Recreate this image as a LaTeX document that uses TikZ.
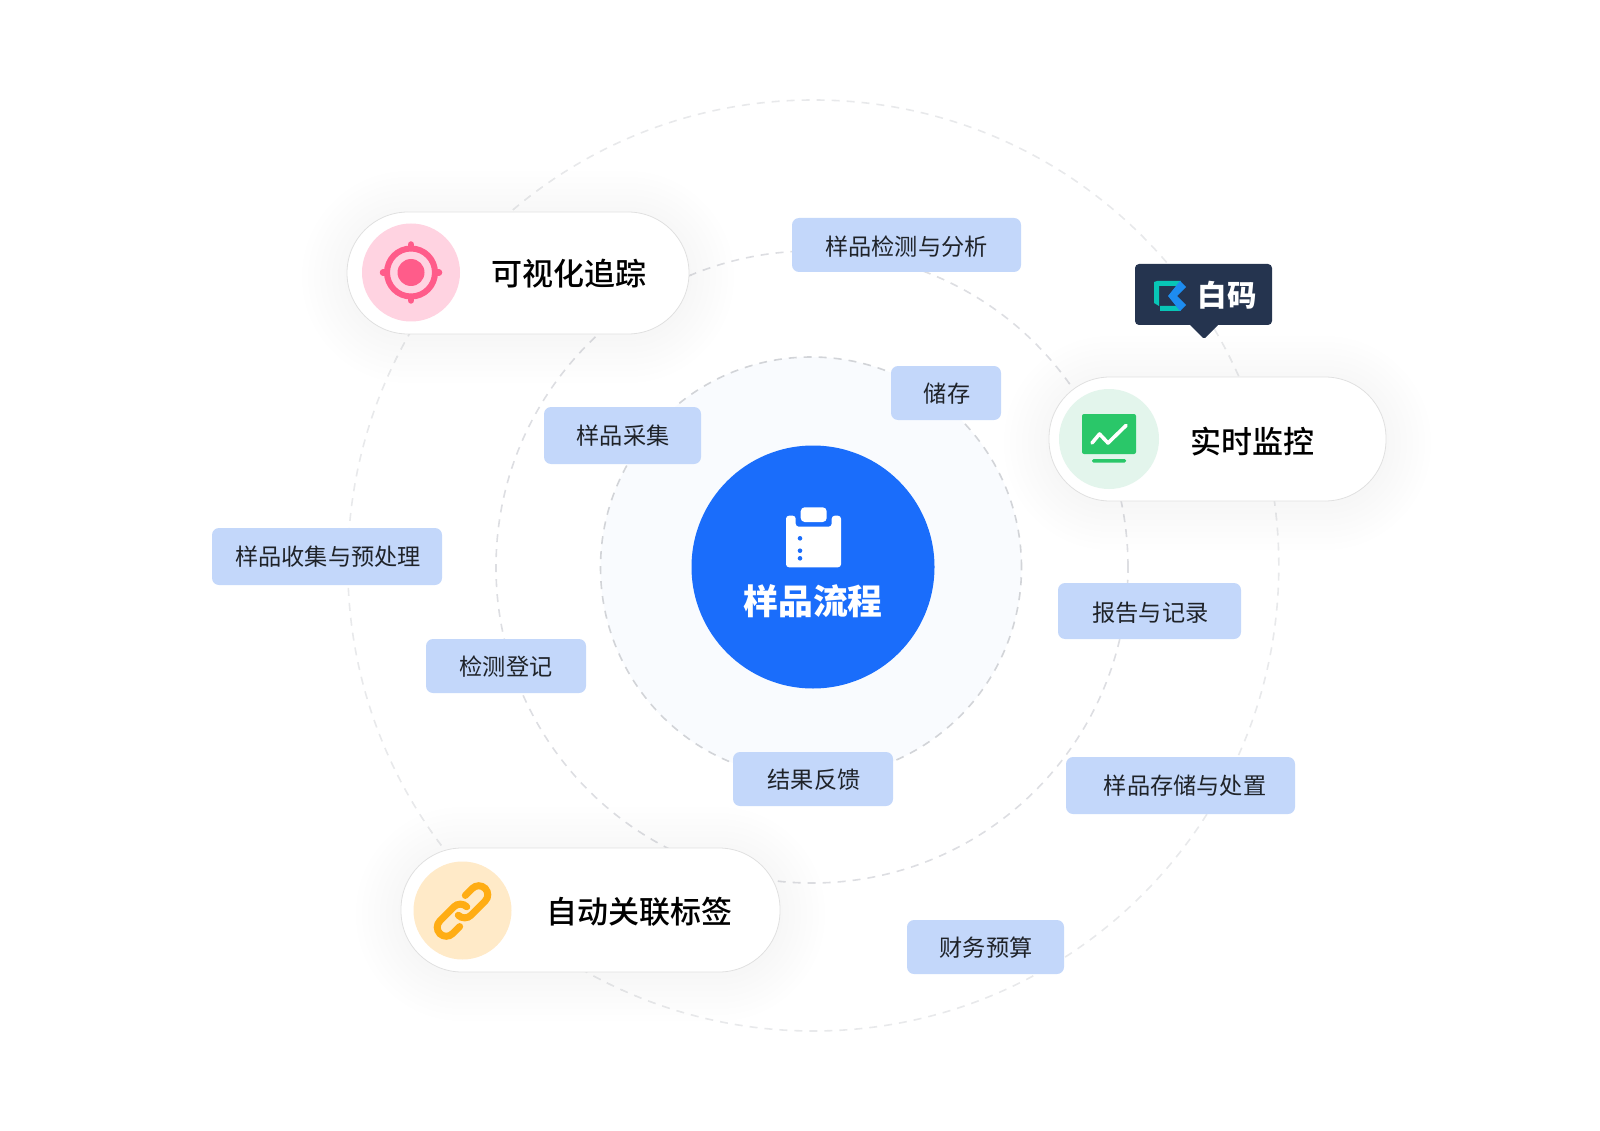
\documentclass[tikz,border=0pt]{standalone}
\usepackage{fontspec}
\usepackage{xcolor}
\setmainfont{Noto Sans CJK SC}
\newfontfamily\cjkmed{Noto Sans CJK SC Medium}
\definecolor{ringa}{HTML}{D2D4D8}
\definecolor{ringb}{HTML}{DDDEE2}
\definecolor{ringc}{HTML}{E8E9EB}
\definecolor{discbg}{HTML}{F9FBFE}
\definecolor{coreblue}{HTML}{1A6DFB}
\definecolor{tagblue}{HTML}{C3D7FA}
\definecolor{tagink}{HTML}{1F2329}
\definecolor{pinkbg}{HTML}{FFD3E1}
\definecolor{pinkfg}{HTML}{FF5C8A}
\definecolor{greenbg}{HTML}{E3F5EC}
\definecolor{greenfg}{HTML}{2AC769}
\definecolor{amberbg}{HTML}{FFEAC8}
\definecolor{amberfg}{HTML}{FFAD14}
\definecolor{navy}{HTML}{25344F}
\definecolor{logoteal}{HTML}{08C5B6}
\definecolor{logoblue}{HTML}{1D8CF0}
\tikzset{
  ring/.style={draw,circle,inner sep=0pt,line width=1.6pt,dash pattern=on 8pt off 7pt},
  tagbox/.style={fill=tagblue,rounded corners=7pt,inner sep=0pt},
  tagtext/.style={inner sep=0pt,text=tagink,text height=20pt,text depth=3pt,font=\fontsize{23.2}{28}\selectfont},
  pill/.style={fill=white,draw=black!12,line width=.8pt,rounded corners=61pt,inner sep=0pt},
  pilltext/.style={inner sep=0pt,text=black,text height=26pt,text depth=4pt,font=\cjkmed\fontsize{31}{36}\selectfont},
  iconbg/.style={circle,inner sep=0pt,minimum size=98pt}
}
\begin{document}
\begin{tikzpicture}[x=1pt,y=-1pt]
\useasboundingbox (0,0) rectangle (1600,1131);
\draw (813.3,565.5) node[ring,draw=ringc,minimum size=931pt](outer) {};
\draw (812,567) node[ring,draw=ringb,minimum size=632pt](middle) {};
\draw (811,567.5) node[ring,draw=ringa,fill=discbg,minimum size=421pt](inner) {};
\draw (813,567) node[circle,fill=coreblue,inner sep=0pt,minimum size=243pt](core) {};
% clipboard
\fill[white,rounded corners=3pt] (786,567.3) -- (786,515.7) -- (795.7,515.7) -- (795.7,526.7) -- (831.7,526.7) -- (831.7,515.7) -- (841,515.7) -- (841,567.3) -- cycle;
\fill[white,rounded corners=4pt] (800.7,507.3) rectangle (826.7,522);
\fill[coreblue] (800,538.3) circle (2.3pt) (800,550.7) circle (2.3pt) (800,558.3) circle (2.3pt);
\draw (813,601) node[inner sep=0pt,text=white,text height=30pt,text depth=4pt,font=\bfseries\fontsize{34.8}{40}\selectfont](coretext) {样品流程};
% soft shadows under the pills
\foreach \d in {3,9,...,45} {
  \fill[black,fill opacity=.0032,rounded corners=61pt+\d pt] (347-\d,216-\d) rectangle (689+\d,338+\d);
  \fill[black,fill opacity=.0032,rounded corners=61pt+\d pt] (1049-\d,381-\d) rectangle (1386+\d,505+\d);
  \fill[black,fill opacity=.0032,rounded corners=61pt+\d pt] (401-\d,852-\d) rectangle (780+\d,976+\d);
}
\draw (518,273) node[pill,minimum width=342pt,minimum height=122pt](track) {};
\draw (1217.5,439) node[pill,minimum width=337pt,minimum height=124pt](watch) {};
\draw (590.5,910) node[pill,minimum width=379pt,minimum height=124pt](link) {};
\draw (411,272.5) node[iconbg,fill=pinkbg](trackbg) {};
\draw (1109,439) node[iconbg,fill=greenbg,minimum size=100pt](watchbg) {};
\draw (462.5,910.5) node[iconbg,fill=amberbg](linkbg) {};
% target
\draw[pinkfg,line width=6pt] (411,272.5) circle (24pt);
\fill[pinkfg] (411,272.5) circle (13.5pt);
\draw[pinkfg,line width=6.5pt,line cap=round] (411,244.5) -- (411,248) (411,297) -- (411,300.5) (383,272.5) -- (386.5,272.5) (435.5,272.5) -- (439,272.5);
% screen
\fill[greenfg,rounded corners=2pt] (1082,414) rectangle (1136,454);
\fill[greenfg,rounded corners=1.5pt] (1092,459) rectangle (1126,462.7);
\draw[white,line width=3.6pt,line cap=round,line join=round] (1092,443) -- (1099.5,434) -- (1108,443) -- (1126,425.5);
% chain
\begin{scope}[shift={(462.5,911)},rotate=45]
\draw[amberfg,line width=7pt,line cap=round,rounded corners=9pt] (13,-9) -- (32,-9) -- (32,9) -- (-6,9) -- (-6,0);
\draw[amberfg,line width=7pt,line cap=round,rounded corners=9pt] (-13,9) -- (-32,9) -- (-32,-9) -- (6,-9) -- (6,0);
\end{scope}
\draw (569,275) node[pilltext](tracktext) {可视化追踪};
\draw (1252,442) node[pilltext](watchtext) {实时监控};
\draw (639,912) node[pilltext](linktext) {自动关联标签};
% badge
\draw (1203.5,294.5) node[fill=navy,rounded corners=4pt,inner sep=0pt,minimum width=137pt,minimum height=61pt](badge) {};
\fill[navy,rounded corners=1.5pt] (1189,324) -- (1204,339) -- (1219,324) -- cycle;
\fill[logoteal] (1154,282) -- (1157,281) -- (1181,281) -- (1177,286) -- (1159,286) -- (1159,306) -- (1154,303) -- cycle;
\fill[logoteal] (1160,306) -- (1176,306) -- (1181,311) -- (1160,311) -- cycle;
\fill[logoblue] (1180,281) -- (1186,287) -- (1177,296) -- (1186,305) -- (1180,311) -- (1168,296) -- cycle;
\draw (1227,296) node[inner sep=0pt,text=white,text height=24pt,text depth=3pt,font=\bfseries\fontsize{29.5}{32}\selectfont](badgetext) {白码};
% tags
\draw (906.5,245) node[tagbox,minimum width=229pt,minimum height=54pt](detect) {};
\draw (906.5,246.7) node[tagtext](detecttext) {样品检测与分析};
\draw (946,393) node[tagbox,minimum width=110pt,minimum height=54pt](store) {};
\draw (947,393.8) node[tagtext](storetext) {储存};
\draw (622.5,435.5) node[tagbox,minimum width=157pt,minimum height=57pt](gather) {};
\draw (623,436.2) node[tagtext](gathertext) {样品采集};
\draw (327,556.5) node[tagbox,minimum width=230pt,minimum height=57pt](prep) {};
\draw (328,557) node[tagtext](preptext) {样品收集与预处理};
\draw (506,666) node[tagbox,minimum width=160pt,minimum height=54pt](enrol) {};
\draw (506,667) node[tagtext](enroltext) {检测登记};
\draw (1149.5,611) node[tagbox,minimum width=183pt,minimum height=56pt](report) {};
\draw (1150.5,612.8) node[tagtext](reporttext) {报告与记录};
\draw (1180.5,785.5) node[tagbox,minimum width=229pt,minimum height=57pt](dispose) {};
\draw (1185,786) node[tagtext](disposetext) {样品存储与处置};
\draw (813,779) node[tagbox,minimum width=160pt,minimum height=54pt](result) {};
\draw (814,779.5) node[tagtext](resulttext) {结果反馈};
\draw (985.5,947) node[tagbox,minimum width=157pt,minimum height=54pt](budget) {};
\draw (986,947.8) node[tagtext](budgettext) {财务预算};
\end{tikzpicture}
\end{document}
